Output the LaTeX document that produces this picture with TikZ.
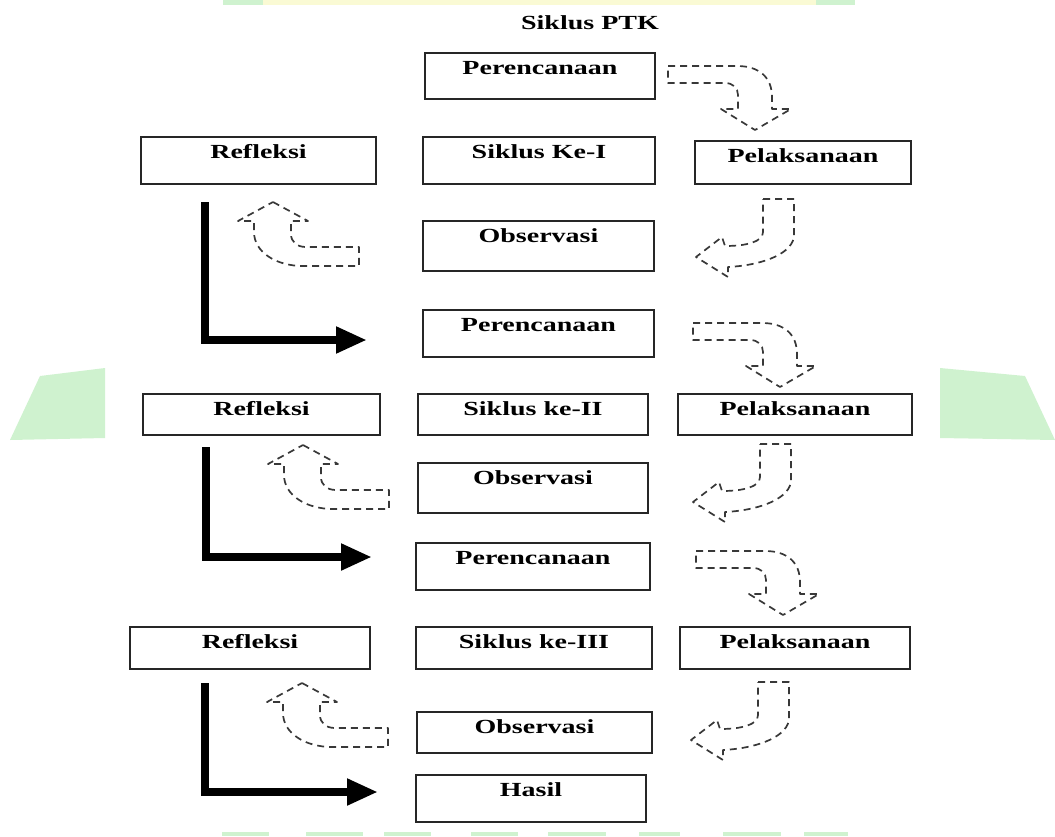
\documentclass[tikz,border=0pt]{standalone}
\usepackage{fontspec}
\setmainfont[FakeStretch=1.4]{Liberation Serif}
\usetikzlibrary{arrows.meta}
\definecolor{wm}{HTML}{CFF2CF}
\definecolor{wy}{HTML}{FAFAD4}
\tikzset{
  box/.style={draw=black!85, line width=2pt, inner sep=0pt, text height=21pt,
    font=\fontsize{20}{24}\selectfont\bfseries},
  dsh/.style={draw=black!78, line width=1.7pt, dash pattern=on 7pt off 5pt, line join=round},
  heavy/.style={draw=black, line width=8pt, -{Triangle[length=31pt,width=25pt]}},
  rd/.pic={\draw[dsh] (-87,-64) -- (-18,-64) .. controls (5,-64) and (17,-52) .. (17,-33)
      -- (17,-21) -- (36,-21) -- (0,0) -- (-34,-21) -- (-17,-21) -- (-17,-35)
      .. controls (-17,-42) and (-22,-47) .. (-30,-47) -- (-87,-47) -- cycle;},
  dl/.pic={\draw[dsh] (67,-58) -- (98,-58) -- (98,-22) .. controls (98,-5) and (70,8) .. (32,10)
      -- (32,20) -- (0,0) -- (26,-20) -- (29,-11) .. controls (50,-11) and (67,-15) .. (67,-25) -- cycle;},
  ul/.pic={\draw[dsh] (0,0) -- (35,19) -- (18,19) -- (18,32) .. controls (18,40) and (24,45) .. (33,45)
      -- (86,45) -- (86,64) -- (30,64) .. controls (3,64) and (-19,50) .. (-19,30)
      -- (-19,19) -- (-35,19) -- cycle;}
}
\newcommand\bx[6]{%
  \pgfmathsetmacro\bxw{#4-#2}\pgfmathsetmacro\bxh{#5-#3}\pgfmathsetmacro\bxd{#5-#3-21}%
  \node[box, minimum width=\bxw pt, minimum height=\bxh pt, text depth=\bxd pt]
    (#1) at ({(#2+#4)/2},{(#3+#5)/2}) {#6};}
\begin{document}
\begin{tikzpicture}[x=1pt,y=-1pt]
\useasboundingbox (0,0) rectangle (1055,836);
% watermark
\fill[wm] (223,0) rectangle (263,5);
\fill[wy] (263,0) rectangle (816,5);
\fill[wm] (816,0) rectangle (855,5);
\fill[wm] (40,376) -- (105,368) -- (105,438) -- (10,440) -- cycle;
\fill[wm] (940,368) -- (1025,376) -- (1055,440) -- (940,438) -- cycle;
\foreach \a/\b in {222/269,306/363,384/431,471/518,548/606,639/680,723/781,804/848}
  \fill[wm] (\a,832) rectangle (\b,836);
% title
\node[font=\fontsize{20}{24}\selectfont\bfseries, anchor=base] (title) at (590,29) {Siklus PTK};
% boxes
\bx{p1}{425}{53}{655}{99}{Perencanaan}
\bx{r1}{141}{137}{376}{184}{Refleksi}
\bx{s1}{423}{137}{655}{184}{Siklus Ke-I}
\bx{l1}{695}{141}{911}{184}{Pelaksanaan}
\bx{o1}{423}{221}{654}{271}{Observasi}
\bx{p2}{423}{310}{654}{357}{Perencanaan}
\bx{r2}{143}{394}{380}{435}{Refleksi}
\bx{s2}{418}{394}{648}{435}{Siklus ke-II}
\bx{l2}{678}{394}{912}{435}{Pelaksanaan}
\bx{o2}{418}{463}{648}{513}{Observasi}
\bx{p3}{416}{543}{650}{590}{Perencanaan}
\bx{r3}{130}{627}{370}{669}{Refleksi}
\bx{s3}{416}{627}{652}{669}{Siklus ke-III}
\bx{l3}{680}{627}{910}{669}{Pelaksanaan}
\bx{o3}{417}{712}{652}{753}{Observasi}
\bx{h}{416}{775}{646}{822}{Hasil}
% dashed block arrows
\pic at (755,130) {rd};
\pic at (780,387) {rd};
\pic at (783,615) {rd};
\pic at (696,257) {dl};
\pic at (693,502) {dl};
\pic at (691,740) {dl};
\pic at (273,202) {ul};
\pic at (303,445) {ul};
\pic at (302,683) {ul};
% heavy L arrows
\coordinate (a1s) at (205,202); \coordinate (a1e) at (367,340);
\coordinate (a2s) at (206,447); \coordinate (a2e) at (372,557);
\coordinate (a3s) at (205,683); \coordinate (a3e) at (378,792);
\draw[heavy] (a1s) |- (a1e);
\draw[heavy] (a2s) |- (a2e);
\draw[heavy] (a3s) |- (a3e);
\end{tikzpicture}
\end{document}
